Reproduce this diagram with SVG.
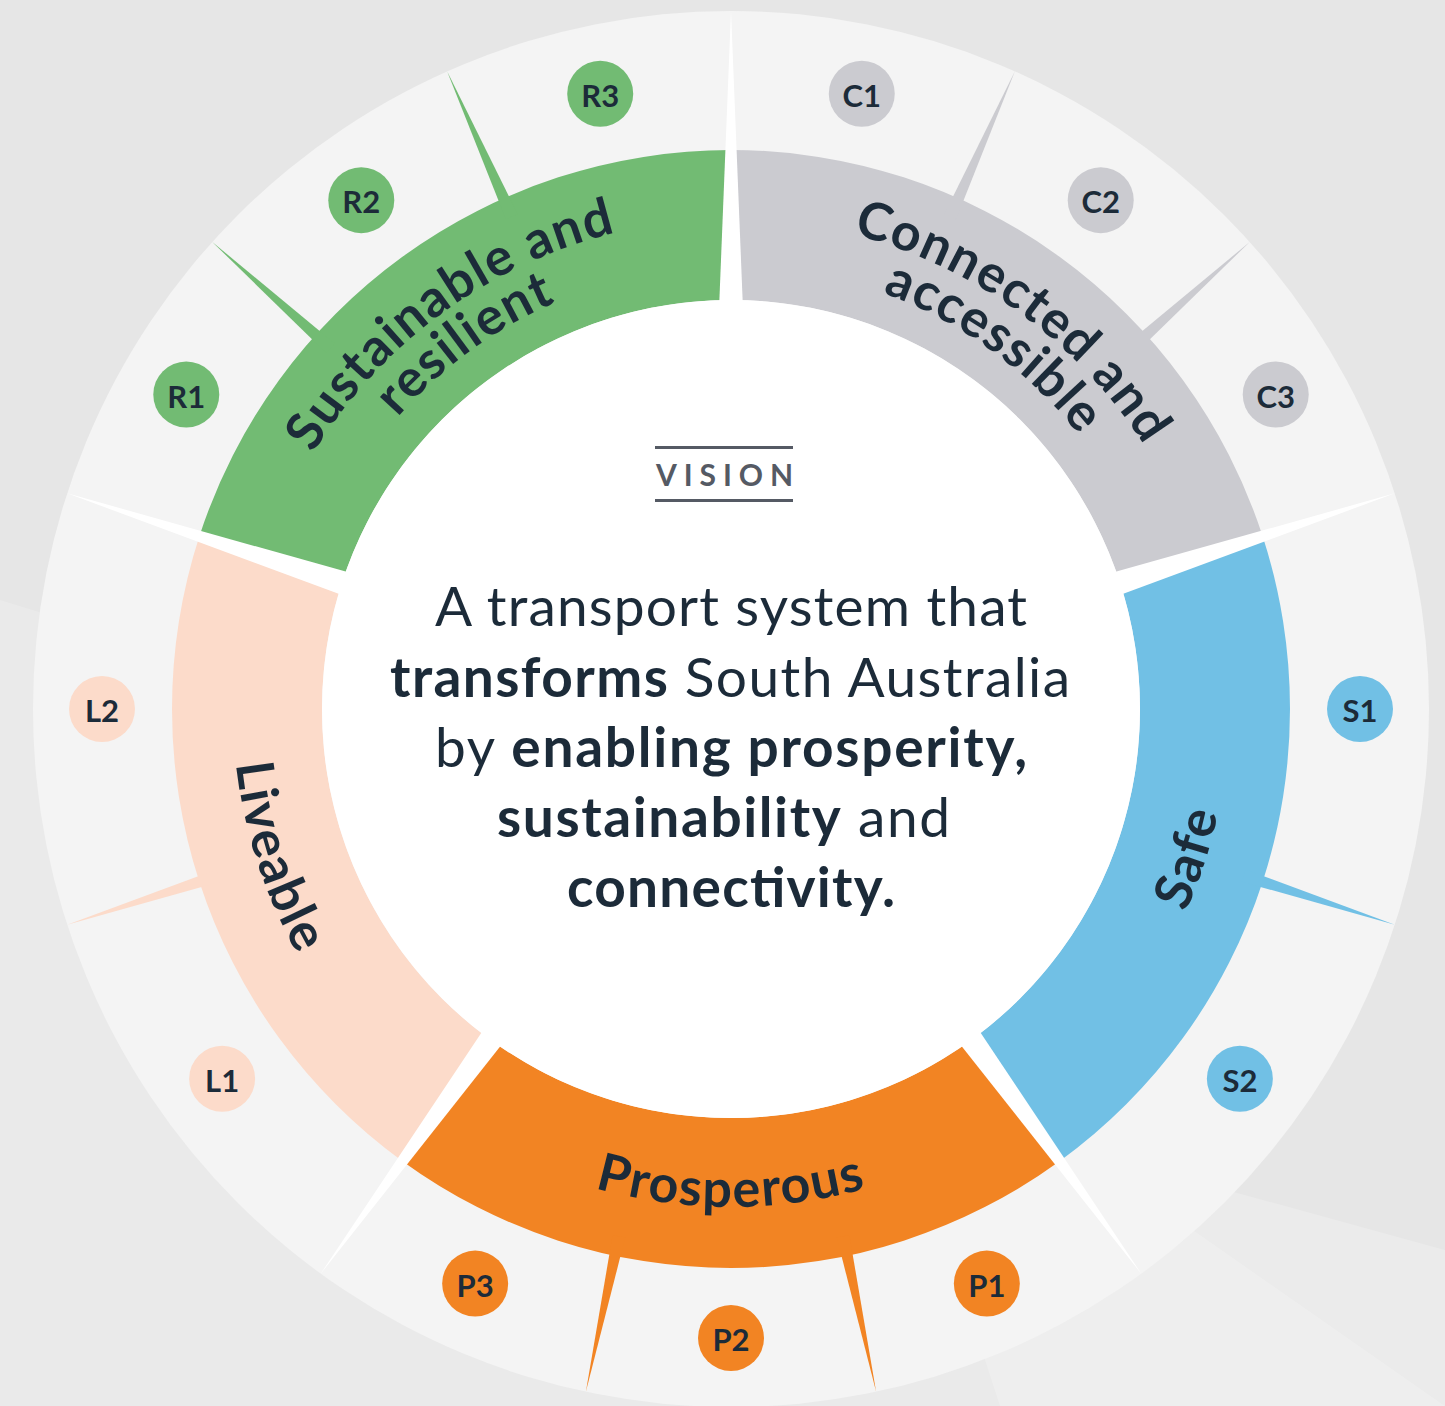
<svg xmlns="http://www.w3.org/2000/svg" width="1445" height="1406" viewBox="0 0 1445 1406">
  <style>
    .lbl { font-family: Lato, "Liberation Sans", sans-serif; font-weight: 700; font-size: 52px; fill: #1c2b39; letter-spacing: 1.5px; }
    .badge-t { font-family: Lato, "Liberation Sans", sans-serif; font-weight: 700; font-size: 31px; fill: #1c2b39; text-anchor: middle; dominant-baseline: central; }
    .vis { font-family: Lato, "Liberation Sans", sans-serif; font-size: 55px; fill: #1c2b39; }
    .b { font-weight: 700; }
    .green { fill: #72bb73; } .grey { fill: #cbcbd0; } .blue { fill: #71c0e5; } .orange { fill: #f28423; } .peach { fill: #fcdbca; }
  </style>
  <defs>
    <polygon id="spoke" points="731,11 747,409 715,409"/>
    <polygon id="needle" points="731,11 737.4,170 724.6,170"/>
    <path id="seg" d="M 199.36 536.26 A 559 559 0 0 1 731 150 L 731 300 A 409 409 0 0 0 342.02 582.61 Z"/>
    <path id="arcTop1" d="M 355.64 394.03 A 490 490 0 0 1 1106.36 394.03"/>
    <path id="arcTop2" d="M 391.64 424.24 A 443 443 0 0 1 1070.36 424.24"/>
    <path id="arcBot" d="M 349.51 1029.11 A 498 498 0 0 0 1112.49 1029.11"/>
  </defs>

  <g id="background">
    <rect width="1445" height="1406" fill="#e6e6e6"/>
    <polygon points="0,600 520,760 1445,1406 0,1406" fill="#ffffff" opacity="0.18"/>
    <polygon points="900,1100 1445,1250 1445,1406 1000,1406" fill="#ffffff" opacity="0.2"/>
    <circle cx="731" cy="709" r="698" fill="#f4f4f4"/>
  </g>

  <g id="segments">
    <g id="seg-sustainable"><use href="#seg" class="green"/></g>
    <g id="seg-connected"><use href="#seg" class="grey" transform="rotate(72 731 709)"/></g>
    <g id="seg-safe"><use href="#seg" class="blue" transform="rotate(144 731 709)"/></g>
    <g id="seg-prosperous"><use href="#seg" class="orange" transform="rotate(216 731 709)"/></g>
    <g id="seg-liveable"><use href="#seg" class="peach" transform="rotate(288 731 709)"/></g>
  </g>

  <g id="connectors">
    <use href="#needle" class="green" transform="rotate(-48 731 709)"/>
    <use href="#needle" class="green" transform="rotate(-24 731 709)"/>
    <use href="#needle" class="grey" transform="rotate(24 731 709)"/>
    <use href="#needle" class="grey" transform="rotate(48 731 709)"/>
    <use href="#needle" class="blue" transform="rotate(108 731 709)"/>
    <use href="#needle" class="orange" transform="rotate(168 731 709)"/>
    <use href="#needle" class="orange" transform="rotate(192 731 709)"/>
    <use href="#needle" class="peach" transform="rotate(252 731 709)"/>
    <g fill="#ffffff">
      <use href="#spoke"/>
      <use href="#spoke" transform="rotate(72 731 709)"/>
      <use href="#spoke" transform="rotate(144 731 709)"/>
      <use href="#spoke" transform="rotate(216 731 709)"/>
      <use href="#spoke" transform="rotate(288 731 709)"/>
    </g>
  </g>

  <g id="vision">
    <circle cx="731" cy="709" r="409" fill="#ffffff"/>
    <line x1="655" y1="447.5" x2="793" y2="447.5" stroke="#555a64" stroke-width="3"/>
    <line x1="655" y1="500.5" x2="793" y2="500.5" stroke="#555a64" stroke-width="3"/>
    <text x="656" y="486" textLength="137" lengthAdjust="spacing" font-family="Lato, 'Liberation Sans', sans-serif" font-weight="700" font-size="30" fill="#555a64">VISION</text>
    <text class="vis" x="435" y="626" textLength="592" lengthAdjust="spacing">A transport system that</text>
    <text class="vis" x="390" y="697" textLength="680" lengthAdjust="spacing"><tspan class="b">transforms</tspan> South Australia</text>
    <text class="vis" x="435" y="767" textLength="592" lengthAdjust="spacing">by <tspan class="b">enabling prosperity,</tspan></text>
    <text class="vis" x="497" y="837" textLength="453" lengthAdjust="spacing"><tspan class="b">sustainability</tspan> and</text>
    <text class="vis b" x="567" y="907" textLength="328" lengthAdjust="spacing">connectivity.</text>
  </g>

  <g id="labels">
    <text class="lbl" transform="rotate(-36 731 709)"><textPath href="#arcTop1" startOffset="50%" text-anchor="middle">Sustainable and</textPath></text>
    <text class="lbl" transform="rotate(-36 731 709)"><textPath href="#arcTop2" startOffset="50%" text-anchor="middle">resilient</textPath></text>
    <text class="lbl" transform="rotate(36 731 709)"><textPath href="#arcTop1" startOffset="50%" text-anchor="middle">Connected and</textPath></text>
    <text class="lbl" transform="rotate(36 731 709)"><textPath href="#arcTop2" startOffset="50%" text-anchor="middle">accessible</textPath></text>
    <text class="lbl" transform="rotate(-72 731 709)"><textPath href="#arcBot" startOffset="50%" text-anchor="middle">Safe</textPath></text>
    <text class="lbl"><textPath href="#arcBot" startOffset="50%" text-anchor="middle">Prosperous</textPath></text>
    <text class="lbl" transform="rotate(72 731 709)"><textPath href="#arcBot" startOffset="50%" text-anchor="middle">Liveable</textPath></text>
  </g>

  <g id="badges">
    <g id="R1"><circle cx="186.27" cy="394.5" r="33" class="green"/><text class="badge-t" x="186.27" y="395.5">R1</text></g>
    <g id="R2"><circle cx="361.28" cy="200.13" r="33" class="green"/><text class="badge-t" x="361.28" y="201.13">R2</text></g>
    <g id="R3"><circle cx="600.22" cy="93.74" r="33" class="green"/><text class="badge-t" x="600.22" y="94.74">R3</text></g>
    <g id="C1"><circle cx="861.78" cy="93.74" r="33" class="grey"/><text class="badge-t" x="861.78" y="94.74">C1</text></g>
    <g id="C2"><circle cx="1100.72" cy="200.13" r="33" class="grey"/><text class="badge-t" x="1100.72" y="201.13">C2</text></g>
    <g id="C3"><circle cx="1275.73" cy="394.5" r="33" class="grey"/><text class="badge-t" x="1275.73" y="395.5">C3</text></g>
    <g id="S1"><circle cx="1360" cy="709" r="33" class="blue"/><text class="badge-t" x="1360" y="710">S1</text></g>
    <g id="S2"><circle cx="1239.87" cy="1078.72" r="33" class="blue"/><text class="badge-t" x="1239.87" y="1079.72">S2</text></g>
    <g id="P1"><circle cx="986.84" cy="1283.62" r="33" class="orange"/><text class="badge-t" x="986.84" y="1284.62">P1</text></g>
    <g id="P2"><circle cx="731" cy="1338" r="33" class="orange"/><text class="badge-t" x="731" y="1339">P2</text></g>
    <g id="P3"><circle cx="475.16" cy="1283.62" r="33" class="orange"/><text class="badge-t" x="475.16" y="1284.62">P3</text></g>
    <g id="L1"><circle cx="222.13" cy="1078.72" r="33" class="peach"/><text class="badge-t" x="222.13" y="1079.72">L1</text></g>
    <g id="L2"><circle cx="102" cy="709" r="33" class="peach"/><text class="badge-t" x="102" y="710">L2</text></g>
  </g>
</svg>
